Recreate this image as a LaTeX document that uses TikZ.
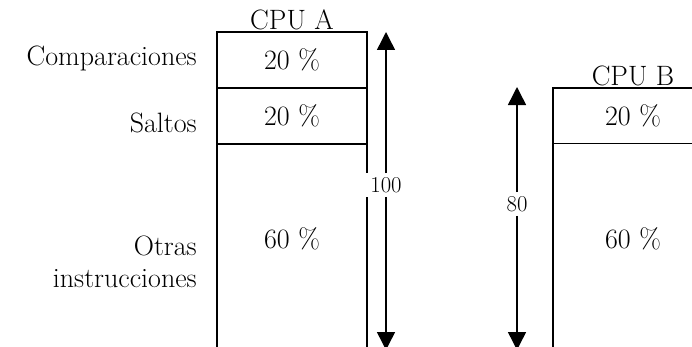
\documentclass[tikz,border=0pt]{standalone}
\usepackage{tikz}
\usetikzlibrary{positioning, arrows.meta, calc}

\tikzset{
    cell/.style={draw, line width=1.1pt, inner sep=0pt, outer sep=0pt,
        minimum width=112.5pt, font=\fontsize{21}{24}\selectfont},
    txt/.style={inner sep=0pt, font=\fontsize{21}{24}\selectfont},
    dimlabel/.style={fill=white, inner sep=3pt, font=\fontsize{17}{19}\selectfont},
    dimline/.style={line width=1.1pt, -{Triangle[length=13.5pt, width=13.5pt]}}
}

\begin{document}
\begin{tikzpicture}[x=0.75pt, y=-0.75pt]
    \useasboundingbox (0,0) rectangle (692,346);
    \clip (0,0) rectangle (692,346);

    % CPU A
    \node[cell, minimum height=42pt, anchor=north west] (a1) at (217,32) {20 \%};
    \node[cell, minimum height=42pt, below=0pt of a1] (a2) {20 \%};
    \node[cell, minimum height=200pt, below=0pt of a2] (a3) {};
    \node[txt] (a3t) at (292,239) {60 \%};
    \node[txt, above=1.5pt of a1] (cpua) {CPU A};

    % CPU B
    \node[cell, minimum width=120pt, minimum height=41.5pt, anchor=north west] (b1) at (553,88) {20 \%};
    \node[cell, minimum width=120pt, minimum height=200pt, below=0pt of b1] (b2) {};
    \node[txt] (b2t) at (633,239) {60 \%};
    \node[txt, above=1.5pt of b1] (cpub) {CPU B};

    % row names
    \node[txt, anchor=east] (comp) at (197,58) {Comparaciones};
    \node[txt, anchor=east] (saltos) at (197,123) {Saltos};
    \node[txt, anchor=east, align=right] (otras) at (197,262) {Otras\\instrucciones};

    % dimension arrows
    \coordinate (atop) at (386,32);
    \coordinate (abot) at (386,350);
    \node[dimlabel] (na) at (386,185) {100};
    \draw[dimline] (na) -- (atop);
    \draw[dimline] (na) -- (abot);

    \coordinate (btop) at (517,87);
    \coordinate (bbot) at (517,350);
    \node[dimlabel] (nb) at (517,204) {80};
    \draw[dimline] (nb) -- (btop);
    \draw[dimline] (nb) -- (bbot);
\end{tikzpicture}
\end{document}
